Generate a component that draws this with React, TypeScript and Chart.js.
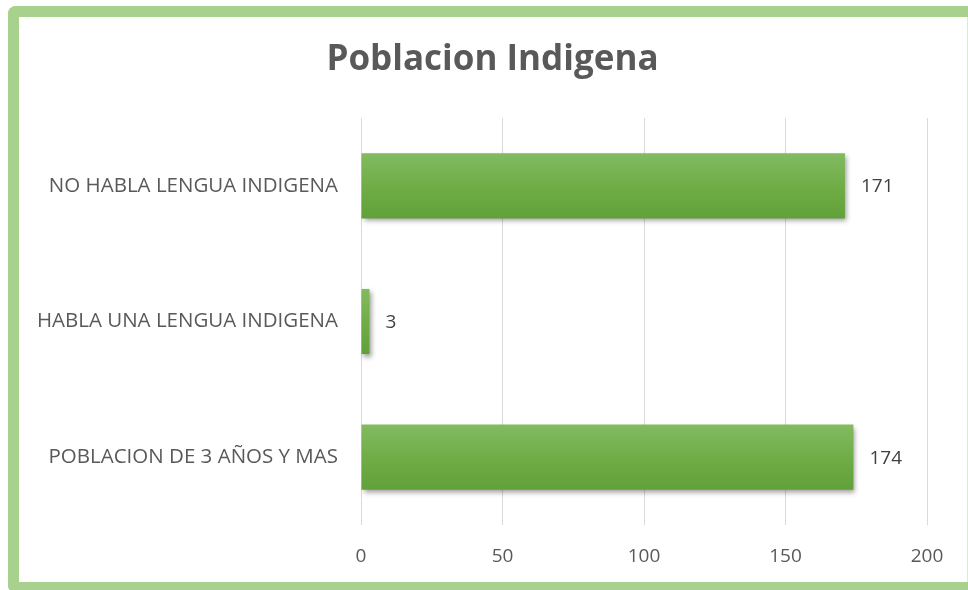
import React, { useEffect, useRef } from "react";
import { Chart, registerables } from "chart.js";

Chart.register(...registerables);

const categories = ["NO HABLA LENGUA INDIGENA", "HABLA UNA LENGUA INDIGENA", "POBLACION DE 3 AÑOS Y MAS"];
const values = [171, 3, 174];
const xTicks = [0, 50, 100, 150, 200];
const title = "Poblacion Indigena";

const FONT = "'Open Sans', sans-serif";
const BAR_PCT = 0.48;

const shadowPlugin = {
  id: "barShadow",
  beforeDatasetsDraw(chart: any) {
    const ctx = chart.ctx;
    ctx.save();
    ctx.shadowColor = "rgba(0,0,0,0.38)";
    ctx.shadowBlur = 5;
    ctx.shadowOffsetX = 2;
    ctx.shadowOffsetY = 3;
  },
  afterDatasetsDraw(chart: any) {
    chart.ctx.restore();
  },
};

const labelPlugin = {
  id: "valueLabels",
  afterDatasetsDraw(chart: any) {
    const ctx = chart.ctx;
    const meta = chart.getDatasetMeta(0);
    ctx.save();
    ctx.shadowColor = "transparent";
    ctx.fillStyle = "#404040";
    ctx.font = `19px ${FONT}`;
    ctx.textAlign = "left";
    ctx.textBaseline = "middle";
    meta.data.forEach((bar: any, i: number) => {
      ctx.fillText(String(values[i]), bar.x + 16, bar.y + 1);
    });
    ctx.restore();
  },
};

export default function App() {
  const ref = useRef<HTMLCanvasElement>(null);
  useEffect(() => {
    if (!ref.current) return;
    const chart = new Chart(ref.current, {
      type: "bar",
      data: {
        labels: categories,
        datasets: [
          {
            data: values,
            backgroundColor: (c: any) => {
              const ch = c.chart;
              const ys = ch.scales?.y;
              if (!ch.chartArea || !ys) return "#70ad47";
              const band = (ys.bottom - ys.top) / categories.length;
              const th = band * BAR_PCT;
              const cy = ys.getPixelForValue(c.dataIndex);
              const g = ch.ctx.createLinearGradient(0, cy - th / 2, 0, cy + th / 2);
              g.addColorStop(0, "#82bb61");
              g.addColorStop(0.5, "#70ad47");
              g.addColorStop(1, "#62a03a");
              return g;
            },
            borderWidth: 0,
            categoryPercentage: 1,
            barPercentage: BAR_PCT,
          },
        ],
      },
      options: {
        indexAxis: "y",
        animation: false,
        responsive: false,
        maintainAspectRatio: false,
        layout: { padding: 0 },
        plugins: {
          legend: { display: false },
          tooltip: { enabled: false },
          title: {
            display: true,
            text: title,
            color: "#595959",
            font: { family: FONT, size: 35, weight: "bold", lineHeight: 1.2 },
            padding: { top: 22, bottom: 37 },
          },
        },
        scales: {
          x: {
            min: 0,
            max: 200,
            afterBuildTicks: (s: any) => {
              s.ticks = xTicks.map((v) => ({ value: v }));
            },
            afterFit: (s: any) => {
              s.height = 57;
            },
            grid: { color: "#d9d9d9", lineWidth: 1, drawTicks: false },
            border: { display: false },
            ticks: {
              color: "#595959",
              font: { family: FONT, size: 19 },
              padding: 20,
            },
          },
          y: {
            afterFit: (s: any) => {
              s.width = 342;
            },
            grid: { display: false, drawTicks: false },
            border: { display: false },
            ticks: {
              color: "#595959",
              font: { family: FONT, size: 20.5 },
              padding: 23,
            },
          },
          yRight: {
            type: "category",
            axis: "y",
            position: "right",
            labels: categories,
            afterFit: (s: any) => {
              s.width = 39;
            },
            grid: { display: false, drawTicks: false },
            border: { display: false },
            ticks: { display: false },
          },
        },
      },
      plugins: [shadowPlugin, labelPlugin],
    });
    return () => chart.destroy();
  }, []);

  return (
    <div style={{ position: "fixed", left: 0, top: 0, width: 968, height: 590, overflow: "hidden", background: "#fff" }}>
      <div
        style={{
          position: "absolute",
          boxSizing: "content-box",
          left: 8,
          top: 6,
          width: 960,
          height: 565,
          borderTop: "11px solid #a9d18e",
          borderLeft: "11px solid #a9d18e",
          borderBottom: "11px solid #a9d18e",
          borderRight: "0px solid #a9d18e",
          borderRadius: "8px 0 0 8px",
          background: "#fff",
        }}
      >
        <canvas ref={ref} width={947} height={565} style={{ display: "block", width: 947, height: 565 }} />
        <div style={{ position: "absolute", left: 948, top: 0, width: 1, height: 565, background: "#dcebd2" }} />
      </div>
    </div>
  );
}
